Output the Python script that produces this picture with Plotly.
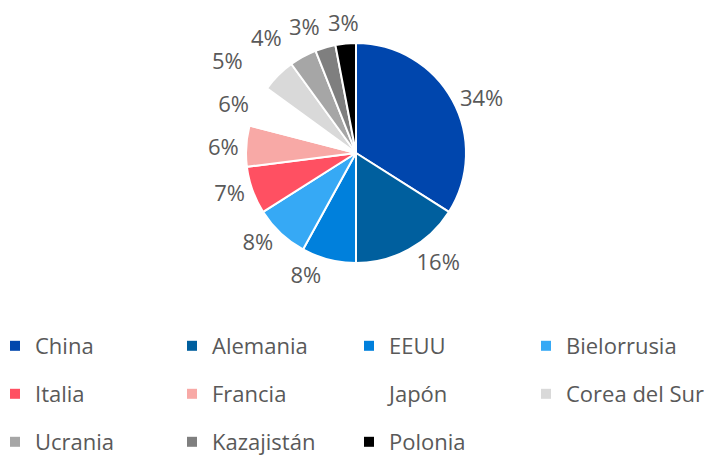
import math
import plotly.graph_objects as go

labels = ["China", "Alemania", "EEUU", "Bielorrusia", "Italia", "Francia",
          "Japón", "Corea del Sur", "Ucrania", "Kazajistán", "Polonia"]
values = [34, 16, 8, 8, 7, 6, 6, 5, 4, 3, 3]
colors = ["#0046AD", "#005F9E", "#0080DC", "#36A9F5", "#FF5062", "#F8A9A6",
          "#FFFFFF", "#D9D9D9", "#A6A6A6", "#7F7F7F", "#000000"]

FONT = "Open Sans"
TXT = "#595959"
FS = 22

# the page shows the figure 8 px in from the top-left corner
W, H = 704, 453
PIE_X = [238, 458]   # pie box in figure px
PIE_Y = [35, 255]

total = sum(values)
cx, cy = sum(PIE_X) / 2, sum(PIE_Y) / 2
R = (PIE_X[1] - PIE_X[0]) / 2

# mid angle of each slice, degrees clockwise from 12 o'clock
mids = []
acc = 0
for v in values:
    mids.append(360 * (acc + v / 2) / total)
    acc += v

# slices in the crowded top-left sector get their labels laid out below
crowded = [m >= 300 for m in mids]
textpos = ["none" if c else "outside" for c in crowded]

fig = go.Figure()
fig.add_trace(go.Pie(
    labels=labels, values=values, sort=False, direction="clockwise", rotation=0,
    marker=dict(colors=colors, line=dict(color="white", width=2)),
    texttemplate="%{value}%", textposition=textpos,
    outsidetextfont=dict(family=FONT, size=FS, color=TXT),
    showlegend=False, hoverinfo="label+percent", automargin=False,
    domain=dict(x=[PIE_X[0]/W, PIE_X[1]/W], y=[1-PIE_Y[1]/H, 1-PIE_Y[0]/H]),
))

# labels of the crowded slices: radial placement, then slide left to avoid overlap
dist = R + 22
boxh = 24
gap = 8
prev = None
for i in reversed(range(len(values))):
    if not crowded[i]:
        continue
    txt = f"{values[i]}%"
    w = FS * (0.572 * (len(txt) - 1) + 0.823)
    a = math.radians(mids[i])
    x = cx + dist * math.sin(a)
    y = cy - dist * math.cos(a)
    if prev is not None:
        px0, py = prev
        if abs(y - py) < boxh and x + w / 2 > px0 - gap:
            x = px0 - gap - w / 2
    prev = (x - w / 2, y)
    fig.add_annotation(x=x / W, y=1 - y / H, xref="paper", yref="paper",
                       text=txt, showarrow=False, xanchor="center", yanchor="middle",
                       font=dict(family=FONT, size=FS, color=TXT))

legend_rows = [labels[0:4], labels[4:8], labels[8:11]]
legend_names = ["legend", "legend2", "legend3"]
for row, lname in zip(legend_rows, legend_names):
    for lab in row:
        i = labels.index(lab)
        fig.add_trace(go.Scatter(
            x=[None], y=[None], mode="markers", name=lab, legend=lname,
            marker=dict(symbol="square", size=10, color=colors[i]),
            hoverinfo="skip",
        ))

row_y = [338, 386, 434]
layout_legends = {}
for lname, ry in zip(legend_names, row_y):
    layout_legends[lname] = dict(
        orientation="h", xanchor="left", yanchor="middle", indentation=-13,
        xref="container", yref="container",
        x=0, y=1 - ry/H, font=dict(family=FONT, size=FS, color=TXT),
        entrywidth=145, entrywidthmode="pixels", borderwidth=0,
        bgcolor="rgba(0,0,0,0)", itemclick=False, itemdoubleclick=False)

fig.update_layout(
    width=W, height=H, margin=dict(l=0, r=0, t=0, b=0, autoexpand=False),
    paper_bgcolor="white", plot_bgcolor="white",
    xaxis=dict(visible=False), yaxis=dict(visible=False),
    **layout_legends,
)

fig.write_html("out.html")
